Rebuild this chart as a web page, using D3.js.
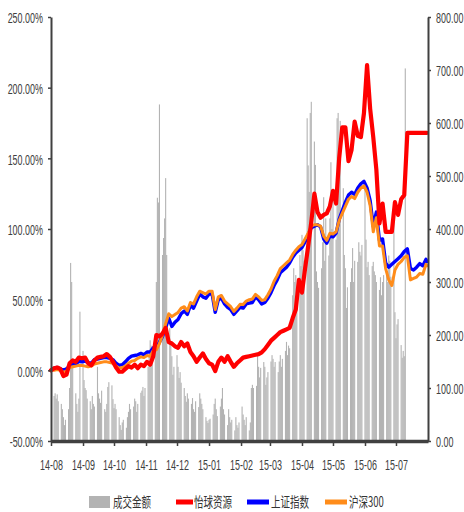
<!DOCTYPE html>
<html><head><meta charset="utf-8">
<script src="https://cdn.jsdelivr.net/npm/d3@7"></script>
<style>body{margin:0;background:#fff}</style>
</head><body><svg id="c" width="464" height="512"></svg>
<script>
// ---------- data ----------
const lineDates = [
"2014-08-01","2014-08-04","2014-08-07","2014-08-10","2014-08-13","2014-08-16","2014-08-19","2014-08-22","2014-08-25","2014-08-28","2014-08-31",
"2014-09-03","2014-09-06","2014-09-09","2014-09-12","2014-09-15","2014-09-18","2014-09-21","2014-09-24","2014-09-27","2014-09-30",
"2014-10-03","2014-10-06","2014-10-09","2014-10-12","2014-10-15","2014-10-18","2014-10-21","2014-10-24","2014-10-27","2014-10-30",
"2014-11-02","2014-11-05","2014-11-08","2014-11-11","2014-11-14","2014-11-17","2014-11-20","2014-11-23","2014-11-26","2014-11-29",
"2014-12-02","2014-12-05","2014-12-08","2014-12-11","2014-12-14","2014-12-17","2014-12-20","2014-12-23","2014-12-26","2014-12-29",
"2015-01-01","2015-01-04","2015-01-07","2015-01-10","2015-01-13","2015-01-16","2015-01-19","2015-01-22","2015-01-25","2015-01-28","2015-01-31",
"2015-02-03","2015-02-06","2015-02-09","2015-02-12","2015-02-15","2015-02-18","2015-02-21","2015-02-24","2015-02-27",
"2015-03-02","2015-03-05","2015-03-08","2015-03-11","2015-03-14","2015-03-17","2015-03-20","2015-03-23","2015-03-26","2015-03-29",
"2015-04-01","2015-04-04","2015-04-07","2015-04-10","2015-04-13","2015-04-16","2015-04-19","2015-04-22","2015-04-25","2015-04-28",
"2015-05-01","2015-05-04","2015-05-07","2015-05-10","2015-05-13","2015-05-16","2015-05-19","2015-05-22","2015-05-25","2015-05-28","2015-05-31",
"2015-06-03","2015-06-06","2015-06-09","2015-06-12","2015-06-15","2015-06-18","2015-06-21","2015-06-24","2015-06-27","2015-06-30",
"2015-07-03","2015-07-06","2015-07-09","2015-07-12","2015-07-15","2015-07-18","2015-07-21","2015-07-24","2015-07-27","2015-07-30","2015-07-31"];

// 怡球资源 (%)
const yiqiu = [
0,1.5,2,1,-4,-3,5,7,6,9,8.5,
9,5,3.5,7,9,9.5,10,11.5,9.5,6,
2,-1,-1,1,3,2,4,1.5,4,3,
6,4,10,25,24,26,30,20,19,17,
16,20,17,19,13,10,6,9,12,8,
5,4,-0.5,6,9,6,10,6,2.5,5,7,
9,9.5,10,10.5,11,11.5,12.7,15,18,
21,23,25,27,28,29,30,37,43,64,
55,72,88,105,125,112,108,110,111,116,
127,118,150,172,172,148,156,176,166,165,182,
216,185,165,142,104,118,98,98,98,119,
110,121,124,168,168,168,168,168,168,168,168];

// 上证指数 (%)
const shanghai = [
0,1.5,2,1,0,1,3,4,4.5,6.5,6,
6.5,5.5,5,7.5,8,8.5,9,9,8.5,7.5,
5,3.5,4,6,8.5,10,10.5,11,12,11,
13,13,16,16,20,24,30,37,31,34,
36,40,42,39.6,46,44,49,54,52,51,
54,54,41,50,51,47,44.5,43,39.6,42,44.5,
44,47,47.5,48,52,50,47,48,51,
55,60,64,69,71,73,76,80,83,85,
87,91,96,101,102,103,101.5,93,90,95,
94.5,97,107,113,119,124,126,124.5,129,132,133.7,
129,120,102,112,92,93,76,73,75,77,
79,81,84,86,72,71,73,75.5,74,78.5,77];

// 沪深300 (%)
const hs300 = [
0,0,0.5,0,-1.5,-0.5,2,2.5,3,3.5,3.5,
3,2.5,3,4.5,5,5.5,6,6,5.5,5,
3,1.5,2,3,5,6.5,7,8.5,9.5,9,
10.5,10,14,14.5,19,25,33,40,38,39.5,
41,44,45,42,48,47,52,56,55,54,
56,56,43,52,53,49,47,45,41.7,44,46.7,
46.5,49,50,50.5,53.7,52,49.5,50,53.5,
57.5,63,67,72,74,76,78,82,85,87.5,
89,93,97,102,103,103,102,95,92,97,
96.5,98,106,111,116,121,123,121.5,126,129,130.5,
126,116.5,98,108,88,88,72,64,60,71,
75,77,80,81,64,65,66,68.5,68,75,74];

// 成交金额: trading weeks (Monday) and Mon..Fri values
const weekStarts = [
"2014-08-04","2014-08-11","2014-08-18","2014-08-25","2014-09-01","2014-09-08","2014-09-15","2014-09-22","2014-09-29",
"2014-10-06","2014-10-13","2014-10-20","2014-10-27","2014-11-03","2014-11-10","2014-11-17","2014-11-24",
"2014-12-01","2014-12-08","2014-12-15","2014-12-22","2014-12-29","2015-01-05","2015-01-12","2015-01-19","2015-01-26",
"2015-02-02","2015-02-09","2015-02-16","2015-02-23","2015-03-02","2015-03-09","2015-03-16","2015-03-23","2015-03-30",
"2015-04-06","2015-04-13","2015-04-20","2015-04-27","2015-05-04","2015-05-11","2015-05-18","2015-05-25",
"2015-06-01","2015-06-08","2015-06-15","2015-06-22","2015-06-29","2015-07-06"];
const volume = [
[85,90,80,88,75],[70,60,45,30,40],[60,100,336,300,150],[90,70,55,80,244],[170,115,100,96,80],
[75,60,85,70,65],[140,90,80,72,95],[60,55,70,102,111],[105,79,62,70,60],
[45,30,21,35,40],[25,45,55,70,60],[65,80,75,55,70],[91,95,102,85,100],[140,160,190,180,150],
[200,300,459,450,635],[351,383,420,496,351],[213,185,160,125,140],
[162,140,119,130,110],[100,85,74,90,80],[70,81,60,55,75],[64,90,80,70,60],[45,38,34,40,42],
[50,70,80,60,47],[65,80,100,60,50],[30,60,45,35,40],[20,45,30,25,35],
[65,50,40,30,45],[20,35,100,106,100],[104,162,140,120,138],[149,140,106,120,130],
[150,162,155,140,149],[130,150,162,140,155],[170,187,162,180,175],[275,326,300,313,290],[351,330,389,360,340],
[609,520,470,619,640],[565,521,320,300,289],[326,375,460,340,420],[350,420,526,400,464],
[380,609,619,500,604],[477,351,326,251,290],[300,326,364,300,340],[338,375,357,350,370],
[480,380,328,338,313],[330,338,320,313,300],[285,309,275,300,313],[320,300,350,340,310],
[440,243,194,220,230],[181,157,170,160,703]];

const leftTicks = [-50,0,50,100,150,200,250];
const rightTicks = [0,100,200,300,400,500,600,700,800];
const monthTicks = ["2014-08-01","2014-09-01","2014-10-01","2014-11-01","2014-12-01","2015-01-01",
  "2015-02-01","2015-03-01","2015-04-01","2015-05-01","2015-06-01","2015-07-01"];
const legendLabels = ["成交金额","怡球资源","上证指数","沪深300"];
const colors = {bar:"#b3b3b3", red:"#ff0000", blue:"#0000ff", orange:"#ff8c1a", axis:"#404040", text:"#404040"};

// ---------- chart ----------
const parse = d3.timeParse("%Y-%m-%d");
const svg = d3.select("#c");
const x = d3.scaleTime().domain([parse("2014-08-01"), parse("2015-08-01")]).range([51, 428]);
const yL = d3.scaleLinear().domain([-50, 250]).range([441, 17]);
const yR = d3.scaleLinear().domain([0, 800]).range([441, 17]);

const bars = [];
weekStarts.forEach((w, i) => {
  const s = parse(w);
  volume[i].forEach((v, j) => { if (v != null) bars.push({date: d3.timeDay.offset(s, j), v}); });
});
svg.append("g").selectAll("rect").data(bars).join("rect")
  .attr("x", d => x(d.date) - 0.55).attr("width", 1.1)
  .attr("y", d => yR(d.v)).attr("height", d => yR(0) - yR(d.v))
  .attr("fill", colors.bar);

const dates = lineDates.map(parse);
function drawLine(vals, color, w) {
  const line = d3.line().x((d, i) => x(dates[i])).y(d => yL(d));
  svg.append("path").datum(vals).attr("d", line)
    .attr("fill", "none").attr("stroke", color).attr("stroke-width", w)
    .attr("stroke-linejoin", "round").attr("stroke-linecap", "round");
}
drawLine(shanghai, colors.blue, 3.4);
drawLine(hs300, colors.orange, 3);
drawLine(yiqiu, colors.red, 4.2);

const SX = 0.64;
const tickFont = "'Liberation Sans',Arial,sans-serif";

const gl = svg.append("g").attr("transform", "translate(51,0)")
  .call(d3.axisLeft(yL).tickValues(leftTicks).tickSize(3).tickSizeOuter(0).tickFormat(d => d.toFixed(2) + "%"));
const gr = svg.append("g").attr("transform", "translate(428,0)")
  .call(d3.axisRight(yR).tickValues(rightTicks).tickSize(3).tickSizeOuter(0).tickFormat(d => d.toFixed(2)));
const gb = svg.append("g").attr("transform", "translate(0,441)")
  .call(d3.axisBottom(x).tickValues(monthTicks.map(parse)).tickSize(5).tickSizeOuter(0).tickFormat(d3.timeFormat("%y-%m")));

[gl, gr, gb].forEach(g => {
  g.select(".domain").attr("stroke", colors.axis).attr("stroke-width", 2);
  g.selectAll(".tick line").attr("stroke", colors.axis).attr("stroke-width", 1.5);
  g.selectAll("text").attr("fill", colors.text).style("font-family", tickFont).style("font-size", "14px");
});
gb.select(".domain").attr("stroke-width", 3.5);
gl.selectAll("text").attr("x", -8 / SX).attr("dy", "0.42em").attr("transform", `scale(${SX},1)`);
gr.selectAll("text").attr("x", 8 / SX).attr("dy", "0.42em").attr("transform", `scale(${SX},1)`);
gb.selectAll("text").attr("y", 29).attr("dy", "0").attr("transform", `scale(${SX},1)`);

// ---------- legend ----------
const lg = svg.append("g");
const ly = 502;
const cjk = "'Noto Sans CJK SC','Noto Sans',sans-serif";
const items = [
  {type:"box", color:colors.bar, x0:89, x1:110, tx:113},
  {type:"line", color:colors.red, x0:176, x1:193, tx:194},
  {type:"line", color:colors.blue, x0:247, x1:269, tx:271},
  {type:"line", color:colors.orange, x0:325, x1:347, tx:349}
];
items.forEach((it, i) => {
  if (it.type === "box") {
    lg.append("rect").attr("x", it.x0).attr("y", ly - 6).attr("width", it.x1 - it.x0).attr("height", 12).attr("fill", it.color);
  } else {
    lg.append("line").attr("x1", it.x0).attr("x2", it.x1).attr("y1", ly).attr("y2", ly)
      .attr("stroke", it.color).attr("stroke-width", 5);
  }
  lg.append("text").attr("transform", `translate(${it.tx},${ly + 5}) scale(0.68,1)`).text(legendLabels[i])
    .attr("fill", "#333").style("font-family", cjk).style("font-size", "14px");
});
</script></body></html>
